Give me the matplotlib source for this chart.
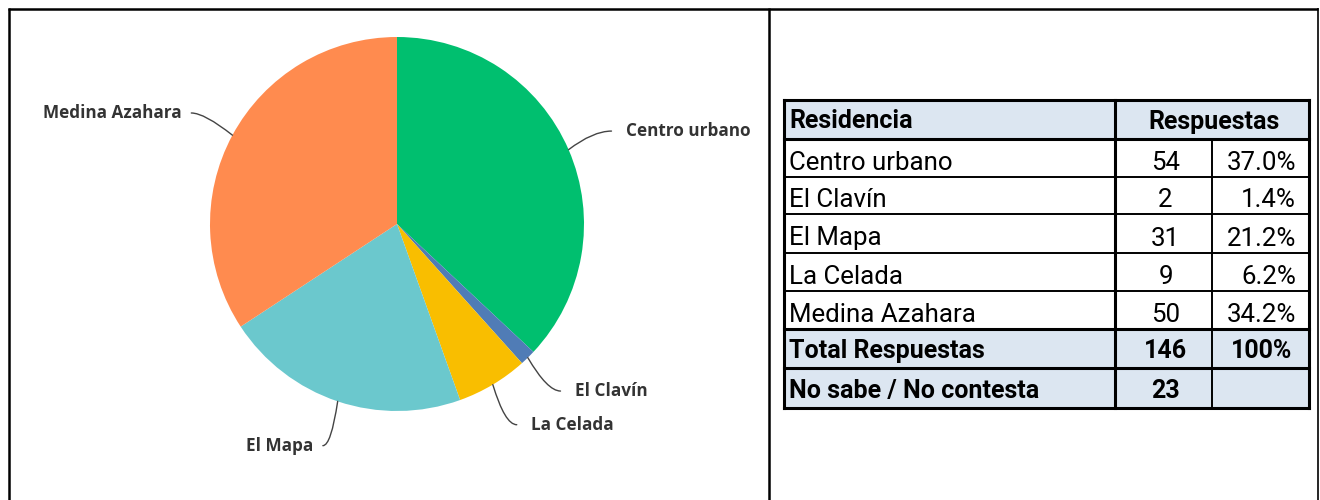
import numpy as np
import matplotlib
matplotlib.use("Agg")
import matplotlib.pyplot as plt
from matplotlib.patches import Rectangle

# ---- data ----
categories = ["Centro urbano", "El Clavín", "La Celada", "El Mapa", "Medina Azahara"]
counts = [54, 2, 9, 31, 50]
colors = ["#00BF6F", "#507CB6", "#F9BE00", "#6BC8CD", "#FF8B4F"]

table_header = ["Residencia", "Respuestas"]
table_names = ["Centro urbano", "El Clavín", "El Mapa", "La Celada", "Medina Azahara"]
table_counts = ["54", "2", "31", "9", "50"]
table_pcts = ["37.0%", "1.4%", "21.2%", "6.2%", "34.2%"]
total_row = ["Total Respuestas", "146", "100%"]
nsnc_row = ["No sabe / No contesta", "23", ""]

W, H = 1320, 500
fig = plt.figure(figsize=(W / 100, H / 100), dpi=100)
fig.patch.set_facecolor("white")

# background axes in pixel coordinates
bg = fig.add_axes([0, 0, 1, 1])
bg.set_xlim(0, W)
bg.set_ylim(H, 0)
bg.axis("off")

# outer frame and divider
frame_lw = 1.8
bg.plot([8, 1318], [8.5, 8.5], color="black", lw=frame_lw, solid_capstyle="butt")
bg.plot([8.5, 8.5], [8, 500], color="black", lw=frame_lw, solid_capstyle="butt")
bg.plot([1318, 1318], [8, 500], color="black", lw=1.2, solid_capstyle="butt")
bg.plot([769, 769], [8, 500], color="black", lw=frame_lw, solid_capstyle="butt")

# ---- pie ----
cx, cy, R = 397, 224, 187
bx0, bx1, by0, by1 = 10, 768, 10, 498
axp = fig.add_axes([bx0 / W, (H - by1) / H, (bx1 - bx0) / W, (by1 - by0) / H])
wedges, _ = axp.pie(counts, colors=colors, startangle=90, counterclock=False,
                    radius=1, wedgeprops=dict(linewidth=0))
axp.set_xlim((bx0 - cx) / R, (bx1 - cx) / R)
axp.set_ylim(-(by1 - cy) / R, (cy - by0) / R)
axp.set_aspect("auto")
axp.axis("off")

label_font = dict(family=["Open Sans", "DejaVu Sans"], weight="bold", fontsize=12.3, color="#333333")
for w, name in zip(wedges, categories):
    mid = (w.theta1 + w.theta2) / 2
    ang = np.deg2rad(mid)
    ex, ey = np.cos(ang), np.sin(ang)
    lx, ly = 1.25 * ex, 1.25 * ey
    # steepen the start direction toward vertical so the leader curves into a horizontal end
    if ex > 0:
        angB = mid + 14 * np.sign(ey)
    else:
        angB = mid - 10 * np.sign(ey)
    axp.annotate("", xy=(ex, ey), xytext=(lx, ly),
                 arrowprops=dict(arrowstyle="-", color="#444444", lw=1.0,
                                 shrinkA=0, shrinkB=0,
                                 connectionstyle=f"angle3,angleA=0,angleB={angB:.1f}"),
                 annotation_clip=False)
    off = 0.075 if ex > 0 else -0.05
    axp.text(lx + off, ly, name, ha="left" if ex > 0 else "right", va="center",
             clip_on=False, **label_font)

# ---- table ----
xL, x1, x2, xR = 784, 1115, 1212, 1309
row_edges = [100, 138.5, 176.5, 214, 252.5, 290.5, 328.5, 368, 408]
fill = "#DCE6F1"
thick, thin = 2.2, 1.4

bg.add_patch(Rectangle((xL, row_edges[0]), xR - xL, row_edges[1] - row_edges[0], color=fill, lw=0))
bg.add_patch(Rectangle((xL, row_edges[6]), xR - xL, row_edges[8] - row_edges[6], color=fill, lw=0))

tfont = ["Roboto", "DejaVu Sans"]
fs, fsb = 18.6, 18.0

def base(i, bold=False):
    return row_edges[i + 1] - (10 if bold else 7.0)

# header
bg.text(xL + 5, base(0, True), table_header[0], ha="left", va="baseline", family=tfont, fontsize=fsb, weight="bold")
bg.text((x1 + xR) / 2 + 2, base(0, True), table_header[1], ha="center", va="baseline", family=tfont, fontsize=fsb, weight="bold")

for i, (n, c, p) in enumerate(zip(table_names, table_counts, table_pcts)):
    r = i + 1
    bg.text(xL + 5, base(r), n, ha="left", va="baseline", family=tfont, fontsize=fs)
    bg.text((x1 + x2) / 2 + 2, base(r), c, ha="center", va="baseline", family=tfont, fontsize=fs)
    bg.text(xR - 13, base(r), p, ha="right", va="baseline", family=tfont, fontsize=fs)

for r, row in ((6, total_row), (7, nsnc_row)):
    bg.text(xL + 5, base(r, True), row[0], ha="left", va="baseline", family=tfont, fontsize=fsb, weight="bold")
    bg.text((x1 + x2) / 2 + 2, base(r, True), row[1], ha="center", va="baseline", family=tfont, fontsize=fsb, weight="bold")
    bg.text((x2 + xR) / 2 + 1, base(r, True), row[2], ha="center", va="baseline", family=tfont, fontsize=fsb, weight="bold")

# grid lines
for i, y in enumerate(row_edges):
    lw = thick if i in (0, 1, 6, 7, 8) else thin
    bg.plot([xL, xR], [y, y], color="black", lw=lw, solid_capstyle="projecting")
bg.plot([xL, xL], [row_edges[0], row_edges[-1]], color="black", lw=thick)
bg.plot([xR, xR], [row_edges[0], row_edges[-1]], color="black", lw=thick)
bg.plot([x1, x1], [row_edges[0], row_edges[-1]], color="black", lw=thick)
bg.plot([x2, x2], [row_edges[1], row_edges[-1]], color="black", lw=thin)

fig.savefig("out.png", dpi=100, facecolor="white")
